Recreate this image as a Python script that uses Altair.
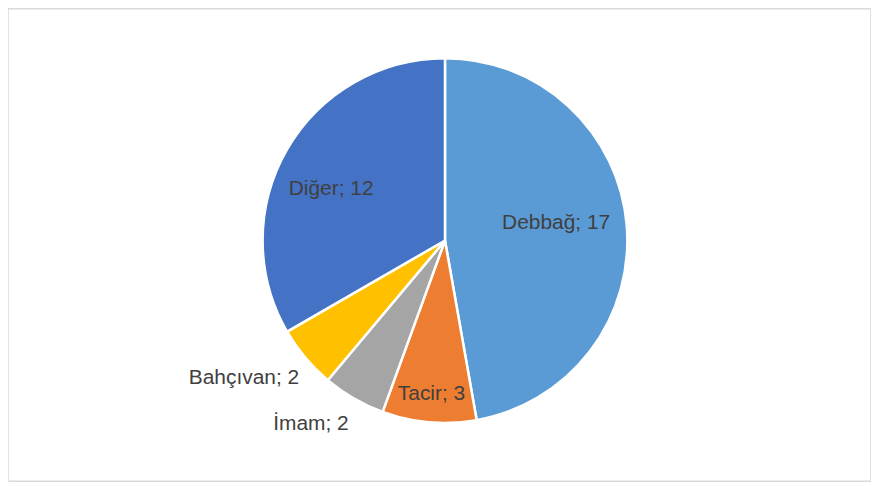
import math
import altair as alt
import pandas as pd

# Data
categories = ["Debbağ", "Tacir", "İmam", "Bahçıvan", "Diğer"]
values = [17, 3, 2, 2, 12]
colors = ["#5B9BD5", "#ED7D31", "#A5A5A5", "#FFC000", "#4472C4"]

total = sum(values)
df = pd.DataFrame({
    "cat": categories,
    "val": values,
    "idx": list(range(len(categories))),
    "label": [f"{c}; {v}" for c, v in zip(categories, values)],
})

# Style / placement (not data)
CX, CY = 438.5, 232.5
R = 183
label_style = {
    "Debbağ": (112, 0, -8),
    "Tacir": (155, 0, 0),
    "İmam": (229, -20, -14),
    "Bahçıvan": (245, -14, -19),
    "Diğer": (125, -6, 11),
}

theta_scale = alt.Scale(domain=[0, total], range=[0, 2 * math.pi])

pie = alt.Chart(df).mark_arc(
    outerRadius=R, stroke="white", strokeWidth=2.5
).encode(
    theta=alt.Theta("val:Q", stack=True, scale=theta_scale),
    color=alt.Color("cat:N", scale=alt.Scale(domain=categories, range=colors), legend=None),
    order=alt.Order("idx:Q"),
    x=alt.value(CX),
    y=alt.value(CY),
)

layers = [pie]
for c in categories:
    r, dx, dy = label_style[c]
    t = alt.Chart(df).transform_window(
        cum="sum(val)", sort=[alt.SortField("idx")], frame=[None, 0]
    ).transform_calculate(
        mid="datum.cum - datum.val / 2"
    ).transform_filter(
        alt.datum.cat == c
    ).mark_text(
        radius=r, dx=dx, dy=dy, font="Liberation Sans", fontSize=21,
        color="#404040", align="center", baseline="middle"
    ).encode(
        theta=alt.Theta("mid:Q", scale=theta_scale),
        text="label:N",
        x=alt.value(CX),
        y=alt.value(CY),
    )
    layers.append(t)

chart = alt.layer(*layers).properties(
    width=866, height=474, padding=0
).configure_view(
    stroke="#d9d9d9", strokeWidth=1.5
)

chart.save("out.html", embed_options={"renderer": "svg", "actions": False})
